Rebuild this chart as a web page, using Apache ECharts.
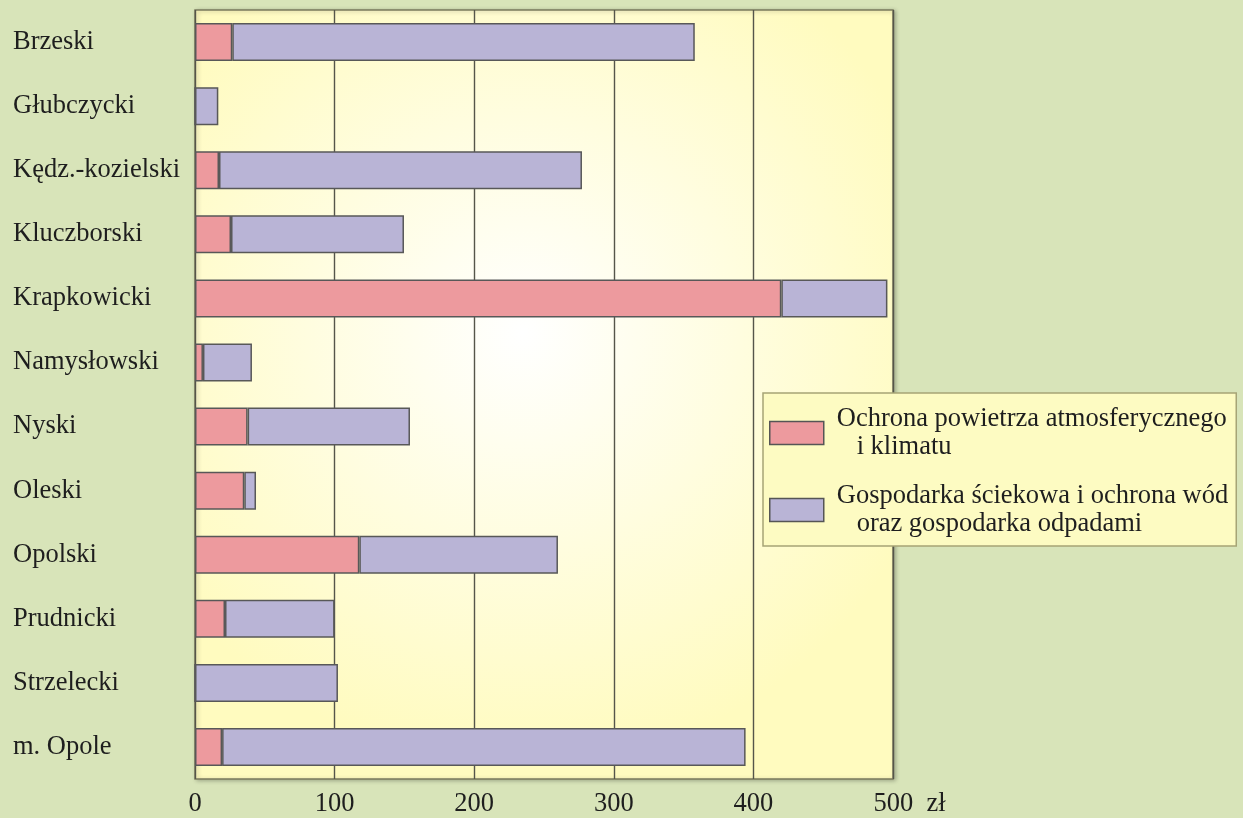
<!DOCTYPE html>
<html>
<head>
<meta charset="utf-8">
<script src="https://cdn.jsdelivr.net/npm/echarts@6/dist/echarts.min.js"></script>
<style>
html,body{margin:0;padding:0;background:#d8e4b9;}
#c{width:1243px;height:818px;}
</style>
</head>
<body>
<div id="c"></div>
<script>
const categories = ['Brzeski','Głubczycki','Kędz.-kozielski','Kluczborski','Krapkowicki','Namysłowski','Nyski','Oleski','Opolski','Prudnicki','Strzelecki','m. Opole'];
const seriesNames = ['Ochrona powietrza atmosferycznego\n   i klimatu', 'Gospodarka ściekowa i ochrona wód\n   oraz gospodarka odpadami'];
const airValues = [26.7, 0, 17.2, 25.8, 420, 5.7, 37.7, 35.3, 117.7, 21.5, 0, 19.4];
const waterValues = [331.3, 16.7, 260, 123.9, 76, 35.1, 116.3, 8.4, 142.3, 78.5, 102.4, 375];
const xTicks = [0, 100, 200, 300, 400, 500];
const unit = 'zł';

const FONT = '"Liberation Serif", "Times New Roman", serif';
const FS = 26.5;
const chart = echarts.init(document.getElementById('c'));
chart.setOption({
  backgroundColor: '#d8e4b9',
  animation: false,
  textStyle: {fontFamily: FONT, color: '#1e1e1e'},
  grid: {
    left: 195, top: 10, right: 350, bottom: 39,
    show: true,
    borderColor: '#7a7a5c', borderWidth: 1.5,
    shadowColor: 'rgba(0,0,0,0.25)', shadowBlur: 4, shadowOffsetX: 2, shadowOffsetY: 1,
    backgroundColor: {
      type: 'radial', x: 0.47, y: 0.42, r: 0.62,
      colorStops: [{offset: 0, color: '#ffffff'}, {offset: 1, color: '#fffbbf'}]
    }
  },
  xAxis: {
    type: 'value', min: xTicks[0], max: xTicks[xTicks.length - 1], interval: 100,
    axisLine: {show: false}, axisTick: {show: false},
    splitLine: {show: true, lineStyle: {color: '#55554a', width: 1.4}},
    axisLabel: {
      fontFamily: FONT, fontSize: FS, color: '#1e1e1e', margin: 12,
      formatter: function (v) {
        return v === xTicks[xTicks.length - 1] ? '{pad|}' + v + '  ' + unit : String(v);
      },
      rich: {pad: {width: 33}}
    }
  },
  yAxis: {
    type: 'category', data: categories, inverse: true,
    axisLine: {show: false}, axisTick: {show: false}, splitLine: {show: false},
    axisLabel: {fontFamily: FONT, fontSize: FS, color: '#1e1e1e', align: 'left', margin: 182}
  },
  legend: {
    orient: 'vertical', left: 763, top: 393,
    padding: [12, 8, 8, 6], itemGap: 21,
    itemWidth: 54, itemHeight: 23, icon: 'rect',
    backgroundColor: '#fdfbc2', borderColor: '#a6a476', borderWidth: 1.5,
    itemStyle: {borderColor: '#555', borderWidth: 1.5},
    textStyle: {fontFamily: FONT, fontSize: FS, color: '#1e1e1e', lineHeight: 28, padding: [0, 0, 0, 8]},
    data: seriesNames
  },
  series: [
    {
      name: seriesNames[0], type: 'bar', stack: 'total', data: airValues, barWidth: 38,
      itemStyle: {color: '#ed9a9e', borderColor: '#585858', borderWidth: 1.5}
    },
    {
      name: seriesNames[1], type: 'bar', stack: 'total', data: waterValues, barWidth: 38,
      itemStyle: {color: '#b9b4d6', borderColor: '#585858', borderWidth: 1.5}
    }
  ]
});
</script>
</body>
</html>
